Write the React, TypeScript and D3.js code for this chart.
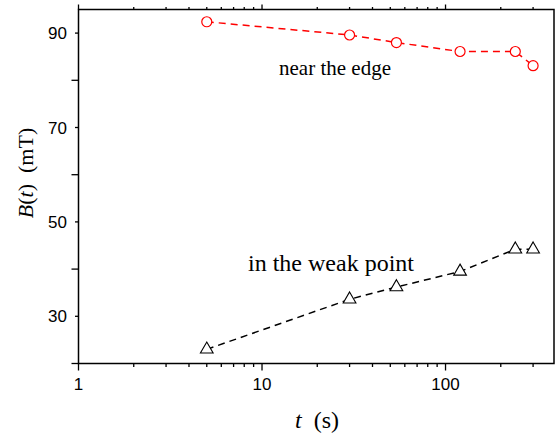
import React, { useEffect, useRef } from 'react';
import * as d3 from 'd3';

// measured times (s)
const edgeTimes = [5, 30, 54, 120, 240, 300];
const edgeValues = [92.4, 89.6, 88.0, 86.1, 86.1, 83.1];
const weakTimes = [5, 30, 54, 120, 240, 300];
const weakValues = [23.0, 33.6, 36.2, 39.5, 44.2, 44.2];
const xTickLabels = [1, 10, 100];
const yTickLabels = [30, 50, 70, 90];
const yMinorTicks = [20, 40, 60, 80];

const SERIF = "'Liberation Serif', 'Times New Roman', Times, 'DejaVu Serif', serif";
const SANS = "'Liberation Sans', Arial, Helvetica, sans-serif";

const App = () => {
  const ref = useRef<SVGSVGElement>(null);
  const W = 555;
  const H = 440;

  useEffect(() => {
    const svg = d3.select(ref.current);
    svg.selectAll('*').remove();

    const left = 78.5, right = 554, top = 9.5, bottom = 363.5;

    const x = d3.scaleLog().domain([1, 390]).range([left, right]);
    const y = d3.scaleLinear().domain([20, 95]).range([bottom, top]);

    // frame
    svg.append('rect')
      .attr('x', left).attr('y', top)
      .attr('width', right - left).attr('height', bottom - top)
      .attr('fill', 'none').attr('stroke', '#000').attr('stroke-width', 1.5);

    // x ticks, log minors 2..9 per decade
    const xMinor: number[] = [];
    [1, 10, 100].forEach(d => {
      for (let k = 2; k <= 9; k++) if (d * k <= 390) xMinor.push(d * k);
    });
    const tickLine = (x1: number, y1: number, x2: number, y2: number) =>
      svg.append('line').attr('x1', x1).attr('y1', y1).attr('x2', x2).attr('y2', y2)
        .attr('stroke', '#000').attr('stroke-width', 1.3);

    xTickLabels.forEach(v => {
      tickLine(x(v), bottom, x(v), bottom + 7);
      tickLine(x(v), top, x(v), top - 5);
    });
    xMinor.forEach(v => {
      tickLine(x(v), bottom, x(v), bottom + 3.5);
      tickLine(x(v), top, x(v), top - 2.5);
    });
    yMinorTicks.forEach(v => tickLine(left, y(v), left - 7, y(v)));
    yTickLabels.forEach(v => tickLine(left, y(v), left - 3.5, y(v)));

    svg.append('g').selectAll('text')
      .data(xTickLabels).enter().append('text')
      .attr('x', d => x(d)).attr('y', 390)
      .attr('text-anchor', 'middle')
      .attr('font-family', SANS)
      .attr('font-size', 17)
      .text(d => d);

    svg.append('g').selectAll('text')
      .data(yTickLabels).enter().append('text')
      .attr('x', 67).attr('y', d => y(d)).attr('dy', '0.36em')
      .attr('text-anchor', 'end')
      .attr('font-family', SANS)
      .attr('font-size', 17)
      .text(d => d);

    // axis titles
    const xt = svg.append('text')
      .attr('x', 317).attr('y', 428).attr('text-anchor', 'middle')
      .attr('font-family', SERIF)
      .attr('font-size', 24);
    xt.append('tspan').attr('font-style', 'italic').text('t');
    xt.append('tspan').text('\u00a0\u00a0(s)');

    const yt = svg.append('text')
      .attr('transform', 'translate(33, 173) rotate(-90)')
      .attr('text-anchor', 'middle')
      .attr('font-family', SERIF)
      .attr('font-size', 22);
    yt.append('tspan').attr('font-style', 'italic').text('B');
    yt.append('tspan').text('(');
    yt.append('tspan').attr('font-style', 'italic').text('t');
    yt.append('tspan').text(')\u00a0\u00a0(mT)');

    // series
    const line = d3.line<[number, number]>().x(d => x(d[0])).y(d => y(d[1]));
    const edge = edgeTimes.map((t, i) => [t, edgeValues[i]] as [number, number]);
    const weak = weakTimes.map((t, i) => [t, weakValues[i]] as [number, number]);

    svg.append('path').datum(edge).attr('d', line)
      .attr('fill', 'none').attr('stroke', '#ff0000').attr('stroke-width', 1.5)
      .attr('stroke-dasharray', '7,5');
    svg.append('path').datum(weak).attr('d', line)
      .attr('fill', 'none').attr('stroke', '#000').attr('stroke-width', 1.5)
      .attr('stroke-dasharray', '7,5');

    svg.selectAll('.circ').data(edge).enter().append('circle')
      .attr('class', 'circ')
      .attr('cx', d => x(d[0])).attr('cy', d => y(d[1])).attr('r', 5)
      .attr('fill', '#fff').attr('stroke', '#ff0000').attr('stroke-width', 1.2);

    const tri = d3.symbol().type(d3.symbolTriangle).size(70);
    svg.selectAll('.tri').data(weak).enter().append('path')
      .attr('class', 'tri')
      .attr('transform', d => `translate(${x(d[0])}, ${y(d[1])})`)
      .attr('d', tri)
      .attr('fill', '#fff').attr('stroke', '#000').attr('stroke-width', 1.1);

    // annotations
    svg.append('text')
      .attr('x', 335).attr('y', 75).attr('text-anchor', 'middle')
      .attr('font-family', SERIF)
      .attr('font-size', 21)
      .text('near the edge');
    svg.append('text')
      .attr('x', 331).attr('y', 271).attr('text-anchor', 'middle')
      .attr('font-family', SERIF)
      .attr('font-size', 24)
      .text('in the weak point');
  }, []);

  return (
    <svg ref={ref} width={W} height={H}
      style={{ position: 'absolute', left: 0, top: 0, background: '#fff' }} />
  );
};

export default App;
